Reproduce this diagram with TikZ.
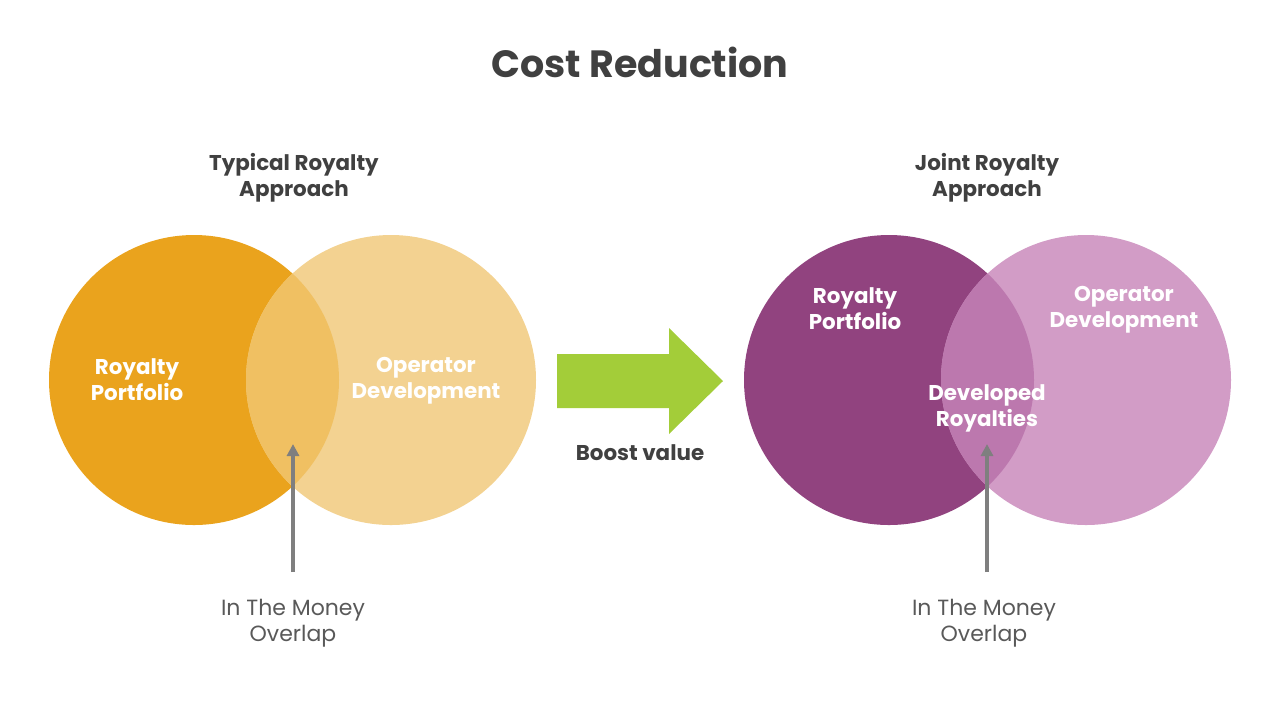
\documentclass[tikz,border=0pt]{standalone}
\usepackage{fontspec}
\usetikzlibrary{arrows.meta}
\setmainfont{Poppins}
\definecolor{darktxt}{HTML}{404040}
\definecolor{graytxt}{HTML}{595959}
\definecolor{orangeA}{HTML}{EAA31D}
\definecolor{orangeB}{HTML}{F3D291}
\definecolor{orangeC}{HTML}{F0C062}
\definecolor{purpA}{HTML}{91437F}
\definecolor{purpB}{HTML}{D29CC6}
\definecolor{purpC}{HTML}{BC78AE}
\definecolor{greenA}{HTML}{A3CD39}
\definecolor{arrgray}{HTML}{7F7F7F}
\begin{document}
\begin{tikzpicture}[x=0.5pt,y=-0.5pt,
  heading/.style={font=\fontsize{10.7}{13}\selectfont\bfseries, text=darktxt, align=center},
  intext/.style={font=\fontsize{10.7}{13}\selectfont\bfseries, text=white, align=center},
  caption/.style={font=\fontsize{11}{13}\selectfont, text=graytxt, align=center},
  pointer/.style={draw=arrgray, line width=2pt, -{Triangle[length=6pt,width=6pt]}}
]
\useasboundingbox (0,0) rectangle (1280,720);
% left venn
\fill[orangeA] (194,380) circle (145);
\fill[orangeB] (391,380) circle (145);
\begin{scope}
\clip (194,380) circle (145);
\fill[orangeC] (391,380) circle (145);
\end{scope}
% right venn
\fill[purpA] (889,380) circle (145);
\fill[purpB] (1086,380) circle (145);
\begin{scope}
\clip (889,380) circle (145);
\fill[purpC] (1086,380) circle (145);
\end{scope}
% green arrow
\fill[greenA] (557,354) -- (669,354) -- (669,328) -- (723,381) -- (669,434) -- (669,408) -- (557,408) -- cycle;
% texts
\node[font=\fontsize{19}{22}\selectfont\bfseries, text=darktxt] (title) at (640,62) {Cost Reduction};
\node[heading] (hl) at (294,178) {Typical Royalty\\Approach};
\node[heading] (hr) at (987,178) {Joint Royalty\\Approach};
\node[intext] (rp1) at (137,380) {Royalty\\Portfolio};
\node[intext] (od1) at (426,381) {Operator\\Development};
\node[intext] (rp2) at (855,309) {Royalty\\Portfolio};
\node[intext] (od2) at (1124,310) {Operator\\Development};
\node[intext] (dr) at (987,408) {Developed\\Royalties};
\node[heading] (bv) at (640,453) {Boost value};
\node[caption] (cl) at (293,623) {In The Money\\Overlap};
\node[caption] (cr) at (984,623) {In The Money\\Overlap};
% pointers
\coordinate (pl0) at (293,572);
\coordinate (pl1) at (293,444);
\coordinate (pr0) at (987,572);
\coordinate (pr1) at (987,444);
\draw[pointer] (pl0) -- (pl1);
\draw[pointer] (pr0) -- (pr1);
\end{tikzpicture}
\end{document}
